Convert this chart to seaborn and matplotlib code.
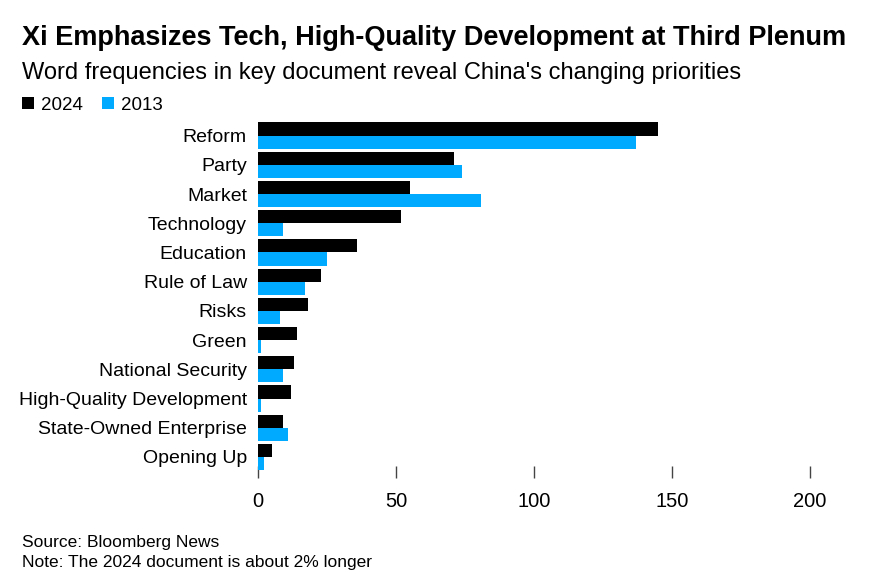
import pandas as pd
import matplotlib.pyplot as plt
import seaborn as sns

sns.set_theme(style="white")
plt.rcParams['font.family'] = ['Liberation Sans', 'DejaVu Sans']
plt.rcParams['text.color'] = 'black'

# Word counts
terms = ["Reform", "Party", "Market", "Technology", "Education", "Rule of Law",
         "Risks", "Green", "National Security", "High-Quality Development",
         "State-Owned Enterprise", "Opening Up"]
count_2024 = [145, 71, 55, 52, 36, 23, 18, 14, 13, 12, 9, 5]
count_2013 = [137, 74, 81, 9, 25, 17, 8, 1, 9, 1, 11, 2]
years = ["2024", "2013"]
colors = {"2024": "#000000", "2013": "#00AAFF"}

df = pd.DataFrame({
    "term": terms * 2,
    "count": count_2024 + count_2013,
    "year": ["2024"] * len(terms) + ["2013"] * len(terms),
})

fig = plt.figure(figsize=(8.77, 5.78), dpi=100)
ax = fig.add_axes([258 / 877, 1 - 478 / 578, (829 - 258) / 877, (478 - 121) / 578])

sns.barplot(data=df, y="term", x="count", hue="year", hue_order=years,
            palette=colors, saturation=1, orient="h", width=0.9, linewidth=0, ax=ax)

ax.set_xlim(0, 207)
ax.set_ylim(11.72, -0.5)
ax.set_xticks([0, 50, 100, 150, 200])
ax.set_xlabel("")
ax.set_ylabel("")
sns.despine(ax=ax, left=True, bottom=True)
ax.tick_params(axis="x", bottom=True, direction="in", length=8.6, width=1, color="#444444",
               labelsize=14.5, pad=10, labelcolor="black")
ax.tick_params(axis="y", left=False, length=0, labelsize=14, pad=8, labelcolor="black")

handles, labels = ax.get_legend_handles_labels()
ax.get_legend().remove()
fig.legend(handles, labels, loc="center left", bbox_to_anchor=(14 / 877, 1 - 105 / 578),
           ncol=2, frameon=False, fontsize=13.5, handlelength=0.65, handleheight=0.65,
           handletextpad=0.4, columnspacing=1.0, borderaxespad=0)

fig.text(22 / 877, 1 - 38 / 578, "Xi Emphasizes Tech, High-Quality Development at Third Plenum",
         fontsize=19.5, fontweight="bold", va="center", ha="left")
fig.text(22 / 877, 1 - 73 / 578, "Word frequencies in key document reveal China's changing priorities",
         fontsize=17, va="center", ha="left")
fig.text(22 / 877, 1 - 542 / 578, "Source: Bloomberg News", fontsize=12.5, va="center", ha="left")
fig.text(22 / 877, 1 - 563 / 578, "Note: The 2024 document is about 2% longer", fontsize=12.5,
         va="center", ha="left")

fig.savefig("out.png", dpi=100)
